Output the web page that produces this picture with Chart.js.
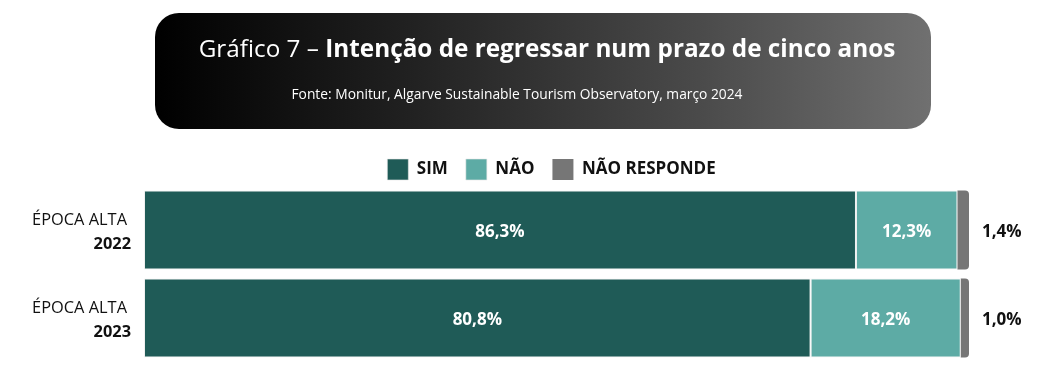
<!DOCTYPE html>
<html>
<head>
<meta charset="utf-8">
<script src="https://cdn.jsdelivr.net/npm/chart.js@4"></script>
<style>
  html,body{margin:0;padding:0;background:#fff;}
  #wrap{position:relative;width:1046px;height:381px;}
  #titlebox{position:absolute;left:155px;top:13px;width:776px;height:116px;border-radius:24px;
    background:linear-gradient(to right,#000000 0%,#1e1e1e 30%,#4a4a4a 70%,#707070 100%);
    font-family:"Open Sans",sans-serif;color:#fff;text-align:center;}
  #t1{position:absolute;left:0;right:0;top:19px;font-size:24.3px;line-height:32px;padding-left:8px;white-space:nowrap;}
  #t1 b{font-weight:700;}
  #t2{position:absolute;left:0;right:0;top:71px;font-size:13.8px;line-height:20px;padding-right:52px;white-space:nowrap;}
  canvas{position:absolute;left:0;top:0;}
</style>
</head>
<body>
<div id="wrap">
  <canvas id="c" width="1046" height="381"></canvas>
  <div id="titlebox">
    <div id="t1">Gráfico 7 – <b>Intenção de regressar num prazo de cinco anos</b></div>
    <div id="t2">Fonte: Monitur, Algarve Sustainable Tourism Observatory, março 2024</div>
  </div>
</div>
<script>
const categories = ["ÉPOCA ALTA|2022", "ÉPOCA ALTA|2023"];
const seriesNames = ["SIM", "NÃO", "NÃO RESPONDE"];
const simValues = [86.3, 80.8];
const naoValues = [12.3, 18.2];
const naoRespondeValues = [1.4, 1.0];
const seriesColors = ["#1F5B57", "#5DABA5", "#767676"];

const fontFamily = '"Open Sans", sans-serif';

const labelPlugin = {
  id: 'labels',
  afterInit(chart) {
    const lg = chart.legend;
    if (lg) {
      const orig = lg.fit;
      lg.fit = function () { orig.call(this); this.height = 45; };
    }
  },
  afterDatasetsDraw(chart) {
    const ctx = chart.ctx;
    ctx.save();
    ctx.textBaseline = 'middle';
    chart.data.datasets.forEach((ds, di) => {
      const meta = chart.getDatasetMeta(di);
      meta.data.forEach((bar, i) => {
        const txt = ds.data[i].toFixed(1).replace('.', ',') + '%';
        ctx.font = 'bold 17px ' + fontFamily;
        if (di === 2) {
          ctx.fillStyle = '#111';
          ctx.textAlign = 'left';
          ctx.fillText(txt, chart.chartArea.right + 13, bar.y + 2);
        } else {
          ctx.fillStyle = '#fff';
          ctx.textAlign = 'center';
          ctx.fillText(txt, (bar.base + bar.x) / 2, bar.y + 2);
        }
      });
    });
    // y-axis category labels
    const ys = chart.scales.y;
    categories.forEach((c, i) => {
      const [l1, l2] = c.split('|');
      const y = ys.getPixelForValue(i);
      ctx.fillStyle = '#111';
      ctx.textAlign = 'right';
      ctx.font = '16.4px ' + fontFamily;
      ctx.fillText(l1, 127, y - 10);
      ctx.font = 'bold 16.4px ' + fontFamily;
      ctx.fillText(l2, 131, y + 14);
    });
    ctx.restore();
  }
};

const valueArrays = [simValues, naoValues, naoRespondeValues];
new Chart(document.getElementById('c'), {
  type: 'bar',
  data: {
    labels: categories,
    datasets: seriesNames.map((n, k) => ({
      label: n,
      data: valueArrays[k],
      backgroundColor: seriesColors[k],
      borderColor: 'rgba(230,230,230,0.6)',
      borderWidth: k === 2 ? 0 : 1,
      borderRadius: k === 2 ? 4 : 0,
      borderSkipped: k === 2 ? 'start' : false,
      barPercentage: 0.9,
      categoryPercentage: 1.0
    }))
  },
  plugins: [labelPlugin],
  options: {
    responsive: false,
    animation: false,
    indexAxis: 'y',
    layout: { padding: { left: 134, right: 77, top: 141, bottom: 19 } },
    scales: {
      x: { stacked: true, min: 0, max: 100, display: false },
      y: { stacked: true, display: false, afterFit(s) { s.width = 10; } }
    },
    plugins: {
      tooltip: { enabled: false },
      legend: {
        position: 'top',
        labels: {
          boxWidth: 21, boxHeight: 21, padding: 18,
          color: '#111',
          font: { family: fontFamily, size: 17, weight: 'bold' }
        }
      }
    }
  }
});
</script>
</body>
</html>
